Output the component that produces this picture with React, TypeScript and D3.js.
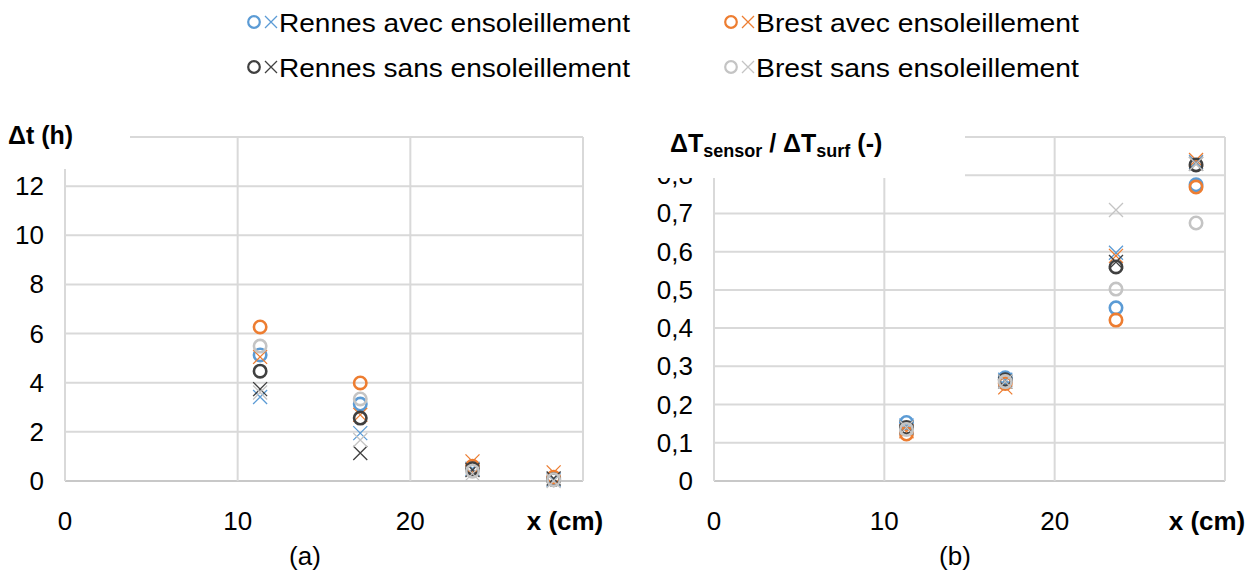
import React from "react";
import * as d3 from "d3";

// ---- data ----
const xCm = [11.3, 17.1, 23.6, 28.3];

// (a) Δt (h)
const dtRennesAvecO = [5.13, 3.13, 0.55, 0.1];
const dtRennesAvecX = [3.42, 1.95, 0.5, 0.05];
const dtBrestAvecO = [6.27, 3.99, 0.6, 0.15];
const dtBrestAvecX = [5.05, 2.69, 0.8, 0.35];
const dtRennesSansO = [4.47, 2.56, 0.5, 0.05];
const dtRennesSansX = [3.74, 1.14, 0.45, 0.1];
const dtBrestSansO = [5.49, 3.34, 0.4, 0.05];
const dtBrestSansX = [3.6, 1.67, 0.3, 0.0];

// (b) ΔTsensor / ΔTsurf
const rRennesAvecO = [0.153, 0.27, 0.453, 0.775];
const rRennesAvecX = [0.145, 0.265, 0.597, 0.835];
const rBrestAvecO = [0.123, 0.255, 0.421, 0.769];
const rBrestAvecX = [0.13, 0.245, 0.589, 0.84];
const rRennesSansO = [0.14, 0.265, 0.56, 0.827];
const rRennesSansX = [0.14, 0.26, 0.573, 0.83];
const rBrestSansO = [0.135, 0.26, 0.502, 0.675];
const rBrestSansX = [0.14, 0.26, 0.709, 0.83];

const seriesNames = [
  "Rennes avec ensoleillement",
  "Brest avec ensoleillement",
  "Rennes sans ensoleillement",
  "Brest sans ensoleillement",
];
const seriesColors = ["#5B9BD5", "#ED7D31", "#404040", "#C4C4C4"];

const leftTicksY = [0, 2, 4, 6, 8, 10, 12, 14];
const rightTicksY = [0, 0.1, 0.2, 0.3, 0.4, 0.5, 0.6, 0.7, 0.8, 0.9];
const ticksX = [0, 10, 20, 30];
const tickLabelsX = ["0", "10", "20"];

const FONT = "'Liberation Sans', Arial, sans-serif";
const GRID = "#D9D9D9";

function Cross({ cx, cy, color }: { cx: number; cy: number; color: string }) {
  const s = 7;
  return (
    <path
      d={`M${cx - s},${cy - s}L${cx + s},${cy + s}M${cx - s},${cy + s}L${cx + s},${cy - s}`}
      stroke={color}
      strokeWidth={1.3}
      fill="none"
    />
  );
}
function Ring({ cx, cy, color }: { cx: number; cy: number; color: string }) {
  return <circle cx={cx} cy={cy} r={6.2} stroke={color} strokeWidth={2.6} fill="none" />;
}

function Panel({
  x0, x1, yMax, yTicks, fmt, circles, crosses, labelX,
}: {
  x0: number; x1: number; yMax: number; yTicks: number[]; fmt: (v: number) => string;
  circles: number[][]; crosses: number[][]; labelX: number;
}) {
  const x = d3.scaleLinear().domain([0, 30]).range([x0, x1]);
  const y = d3.scaleLinear().domain([0, yMax]).range([481, 137]);
  return (
    <g>
      {yTicks.map((t) => (
        <line key={"h" + t} x1={x0} x2={x1} y1={y(t)} y2={y(t)} stroke={t === 0 ? "#C8C8C8" : GRID} strokeWidth={2} />
      ))}
      {ticksX.map((t) => (
        <line key={"v" + t} x1={x(t)} x2={x(t)} y1={y(yMax)} y2={y(0)} stroke={GRID} strokeWidth={2} />
      ))}
      {yTicks.filter((t) => t !== yMax).map((t) => (
        <text key={"yl" + t} x={x0 - 21} y={y(t) + 9} textAnchor="end" fontSize={26} fontFamily={FONT} fill="#000">
          {fmt(t)}
        </text>
      ))}
      {tickLabelsX.map((l, i) => (
        <text key={"xl" + i} x={x(ticksX[i])} y={530} textAnchor="middle" fontSize={26} fontFamily={FONT} fill="#000">
          {l}
        </text>
      ))}
      <text x={labelX} y={530} textAnchor="middle" fontSize={26} fontWeight="bold" fontFamily={FONT} fill="#000">
        x (cm)
      </text>
      {circles.map((vals, si) => (
        <g key={"s" + si}>
          {vals.map((v, i) => (
            <Ring key={"c" + i} cx={x(xCm[i])} cy={y(v)} color={seriesColors[si]} />
          ))}
          {crosses[si].map((v, i) => (
            <Cross key={"x" + i} cx={x(xCm[i])} cy={y(v)} color={seriesColors[si]} />
          ))}
        </g>
      ))}
    </g>
  );
}

export default function App() {
  const legendPos = [
    { cx: 254, cy: 22 },
    { cx: 731, cy: 22 },
    { cx: 254, cy: 67 },
    { cx: 731, cy: 67 },
  ];
  return (
    <svg width={1258} height={586} style={{ position: "absolute", left: 0, top: 0, background: "#fff" }}>
      <rect width={1258} height={586} fill="#fff" />
      {/* legend */}
      {seriesNames.map((n, i) => {
        const p = legendPos[i];
        return (
          <g key={n}>
            <circle cx={p.cx} cy={p.cy} r={5.8} stroke={seriesColors[i]} strokeWidth={2.2} fill="none" />
            <path
              d={`M${p.cx + 11},${p.cy - 6}L${p.cx + 23},${p.cy + 6}M${p.cx + 11},${p.cy + 6}L${p.cx + 23},${p.cy - 6}`}
              stroke={seriesColors[i]}
              strokeWidth={1.3}
            />
            <text x={p.cx + 25} y={p.cy + 9.5} fontSize={26} fontFamily={FONT} fill="#000"
              textLength={i % 2 === 0 ? 351 : 323} lengthAdjust="spacingAndGlyphs">
              {n}
            </text>
          </g>
        );
      })}
      <Panel
        x0={65} x1={583} yMax={14} yTicks={leftTicksY}
        fmt={(v) => String(v)}
        circles={[dtRennesAvecO, dtBrestAvecO, dtRennesSansO, dtBrestSansO]}
        crosses={[dtRennesAvecX, dtBrestAvecX, dtRennesSansX, dtBrestSansX]}
        labelX={565}
      />
      <Panel
        x0={714} x1={1225} yMax={0.9} yTicks={rightTicksY}
        fmt={(v) => (v === 0 ? "0" : d3.format(".1f")(v).replace(".", ","))}
        circles={[rRennesAvecO, rBrestAvecO, rRennesSansO, rBrestSansO]}
        crosses={[rRennesAvecX, rBrestAvecX, rRennesSansX, rBrestSansX]}
        labelX={1207}
      />
      {/* axis title boxes */}
      <rect x={0} y={95} width={130} height={74} fill="#fff" />
      <text x={8} y={144} fontSize={25} fontWeight="bold" fontFamily={FONT} fill="#000">Δt (h)</text>
      <rect x={650} y={105} width={315} height={73} fill="#fff" />
      <text x={670} y={152} fontSize={25} fontWeight="bold" fontFamily={FONT} fill="#000">
        ΔT<tspan fontSize={18} dy={5}>sensor</tspan>
        <tspan dy={-5}> / ΔT</tspan>
        <tspan fontSize={18} dy={5}>surf</tspan>
        <tspan dy={-5}> (-)</tspan>
      </text>
      <text x={305} y={565} textAnchor="middle" fontSize={26} fontFamily={FONT} fill="#000">(a)</text>
      <text x={955} y={565} textAnchor="middle" fontSize={26} fontFamily={FONT} fill="#000">(b)</text>
    </svg>
  );
}
